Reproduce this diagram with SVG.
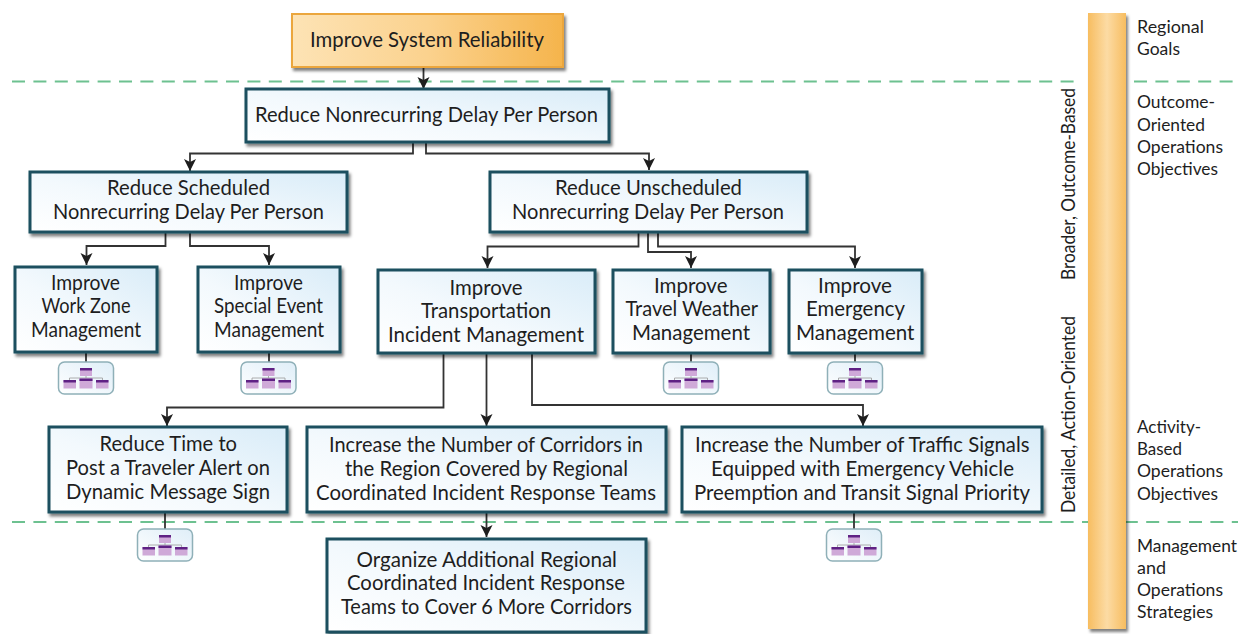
<svg xmlns="http://www.w3.org/2000/svg" width="1238" height="634" viewBox="0 0 1238 634">
<style>
text{font-family:Lato,"Open Sans","Liberation Sans",sans-serif;fill:#1e1e1e}
.m{font-size:20.500px}
.s{font-size:17.500px}
.r{font-size:19px}
.b{fill:url(#bg);stroke:#1c4f5e;stroke-width:3;filter:url(#sh)}
.c{fill:none;stroke:#333;stroke-width:1.8}
.a{marker-end:url(#ah)}
.d{fill:none;stroke:#6dc190;stroke-width:2;stroke-dasharray:13 8.4}
.i{fill:url(#ig);stroke:#8fb0b8;stroke-width:1.5}
.t{fill:#cfa9d8}
.p{fill:#5f2184}
</style>
<defs>
<linearGradient id="bg" x1="0" y1="1" x2="1" y2="0"><stop offset="0" stop-color="#ffffff"/><stop offset="0.45" stop-color="#f3f9fd"/><stop offset="1" stop-color="#d9ecf8"/></linearGradient>
<linearGradient id="ig" x1="0" y1="1" x2="1" y2="0"><stop offset="0" stop-color="#ffffff"/><stop offset="1" stop-color="#dfeef8"/></linearGradient>
<linearGradient id="og" x1="0" y1="0" x2="1" y2="0"><stop offset="0" stop-color="#fde3b5"/><stop offset="0.5" stop-color="#fbd28e"/><stop offset="1" stop-color="#f5b44c"/></linearGradient>
<linearGradient id="bar" x1="0" y1="0" x2="1" y2="0"><stop offset="0" stop-color="#f7bd60"/><stop offset="0.5" stop-color="#fcdba4"/><stop offset="1" stop-color="#f7bd60"/></linearGradient>
<filter id="sh" x="-10%" y="-10%" width="125%" height="125%"><feDropShadow dx="2" dy="3" stdDeviation="1.6" flood-color="#000" flood-opacity="0.5"/></filter>
<marker id="ah" markerUnits="userSpaceOnUse" markerWidth="14" markerHeight="14" refX="12" refY="6" orient="auto"><path d="M0,0 L12,6 L0,12 L3,6 z" fill="#1e1e1e"/></marker>
<g id="ic">
<rect class="i" x="0" y="0" width="55" height="32" rx="6"/>
<path d="M27.500,14V16M11,18V16H44V18" fill="none" stroke="#999" stroke-width="0.8"/>
<rect class="t" x="21.500" y="6" width="12" height="8"/><rect class="p" x="21.500" y="6" width="12" height="2.500"/>
<rect class="t" x="5" y="18" width="12.500" height="8.500"/><rect class="p" x="5" y="18" width="12.500" height="2.500"/>
<rect class="t" x="21" y="16.500" width="13" height="10"/><rect class="p" x="21" y="16.500" width="13" height="2.500"/>
<rect class="t" x="37.500" y="18" width="12.500" height="8.500"/><rect class="p" x="37.500" y="18" width="12.500" height="2.500"/>
</g>
</defs>

<g id="guides">
<path class="d" d="M12,81.500H1081"/>
<path class="d" d="M1134,81.500H1238"/>
<path class="d" d="M12,522H1238"/>
</g>

<g id="scale-bar">
<rect x="1088" y="13" width="38" height="616" fill="url(#bar)" filter="url(#sh)"/>
<text class="r" transform="translate(1074.500,280) rotate(-90)" textLength="192" lengthAdjust="spacingAndGlyphs">Broader, Outcome-Based</text>
<text class="r" transform="translate(1074.500,513) rotate(-90)" textLength="197" lengthAdjust="spacingAndGlyphs">Detailed, Action-Oriented</text>
</g>

<g id="levels">
<text class="s" x="1137" y="33" textLength="67" lengthAdjust="spacingAndGlyphs">Regional</text>
<text class="s" x="1137" y="55" textLength="43" lengthAdjust="spacingAndGlyphs">Goals</text>
<text class="s" x="1137" y="108" textLength="78" lengthAdjust="spacingAndGlyphs">Outcome-</text>
<text class="s" x="1137" y="131" textLength="68" lengthAdjust="spacingAndGlyphs">Oriented</text>
<text class="s" x="1137" y="153" textLength="86" lengthAdjust="spacingAndGlyphs">Operations</text>
<text class="s" x="1137" y="175" textLength="81" lengthAdjust="spacingAndGlyphs">Objectives</text>
<text class="s" x="1137" y="433" textLength="64" lengthAdjust="spacingAndGlyphs">Activity-</text>
<text class="s" x="1137" y="455" textLength="45" lengthAdjust="spacingAndGlyphs">Based</text>
<text class="s" x="1137" y="477" textLength="86" lengthAdjust="spacingAndGlyphs">Operations</text>
<text class="s" x="1137" y="500" textLength="81" lengthAdjust="spacingAndGlyphs">Objectives</text>
<text class="s" x="1137" y="552" textLength="100" lengthAdjust="spacingAndGlyphs">Management</text>
<text class="s" x="1137" y="574" textLength="29" lengthAdjust="spacingAndGlyphs">and</text>
<text class="s" x="1137" y="596" textLength="86" lengthAdjust="spacingAndGlyphs">Operations</text>
<text class="s" x="1137" y="618" textLength="76" lengthAdjust="spacingAndGlyphs">Strategies</text>
</g>

<g id="connectors">
<path class="c a" d="M423.500,67V89"/>
<path class="c a" d="M413,142V153.500H190V171"/>
<path class="c a" d="M426,142V153.500H649V170"/>
<path class="c a" d="M165.500,232V246H86.500V265"/>
<path class="c a" d="M190,232V246H269V265"/>
<path class="c a" d="M638.500,232V246.500H487.500V268"/>
<path class="c a" d="M648,232V252H691V268"/>
<path class="c a" d="M658,232V246.500H855V268"/>
<path class="c a" d="M443.500,353V407.500H167V426"/>
<path class="c a" d="M486.500,353V426"/>
<path class="c a" d="M532,353V405H863V426"/>
<path class="c a" d="M486.500,512V537"/>
<path class="c" d="M86,352V362M269,352V362M691,353V362M855,353V362M165,512V529M854,512V529"/>
</g>

<g id="n-goal">
<rect x="292" y="14" width="271" height="53" fill="url(#og)" stroke="#eba63e" stroke-width="2" filter="url(#sh)"/>
<text class="m" x="310" y="47" textLength="234" lengthAdjust="spacingAndGlyphs">Improve System Reliability</text>
</g>
<g id="n-delay">
<rect class="b" x="246" y="89" width="363" height="53"/>
<text class="m" x="255" y="122" textLength="343" lengthAdjust="spacingAndGlyphs">Reduce Nonrecurring Delay Per Person</text>
</g>
<g id="n-scheduled">
<rect class="b" x="30" y="172" width="317" height="60"/>
<text class="m" x="107" y="195" textLength="163" lengthAdjust="spacingAndGlyphs">Reduce Scheduled</text>
<text class="m" x="53" y="219" textLength="271" lengthAdjust="spacingAndGlyphs">Nonrecurring Delay Per Person</text>
</g>
<g id="n-unscheduled">
<rect class="b" x="490" y="172" width="317" height="60"/>
<text class="m" x="555" y="195" textLength="187" lengthAdjust="spacingAndGlyphs">Reduce Unscheduled</text>
<text class="m" x="512" y="219" textLength="272" lengthAdjust="spacingAndGlyphs">Nonrecurring Delay Per Person</text>
</g>
<g id="n-workzone">
<rect class="b" x="15" y="267" width="142" height="85"/>
<text class="m" x="51" y="290" textLength="69" lengthAdjust="spacingAndGlyphs">Improve</text>
<text class="m" x="41.500" y="313" textLength="89" lengthAdjust="spacingAndGlyphs">Work Zone</text>
<text class="m" x="31" y="337" textLength="110" lengthAdjust="spacingAndGlyphs">Management</text>
</g>
<g id="n-special">
<rect class="b" x="198" y="267" width="142" height="85"/>
<text class="m" x="234" y="290" textLength="69" lengthAdjust="spacingAndGlyphs">Improve</text>
<text class="m" x="214" y="313" textLength="109" lengthAdjust="spacingAndGlyphs">Special Event</text>
<text class="m" x="214" y="337" textLength="110" lengthAdjust="spacingAndGlyphs">Management</text>
</g>
<g id="n-incident">
<rect class="b" x="378" y="270" width="217" height="83"/>
<text class="m" x="449.500" y="295" textLength="73" lengthAdjust="spacingAndGlyphs">Improve</text>
<text class="m" x="421" y="318" textLength="130" lengthAdjust="spacingAndGlyphs">Transportation</text>
<text class="m" x="388" y="342" textLength="196" lengthAdjust="spacingAndGlyphs">Incident Management</text>
</g>
<g id="n-weather">
<rect class="b" x="613" y="270" width="157" height="83"/>
<text class="m" x="654" y="293" textLength="73.500" lengthAdjust="spacingAndGlyphs">Improve</text>
<text class="m" x="625.500" y="316" textLength="132.500" lengthAdjust="spacingAndGlyphs">Travel Weather</text>
<text class="m" x="632" y="340" textLength="118" lengthAdjust="spacingAndGlyphs">Management</text>
</g>
<g id="n-emergency">
<rect class="b" x="789" y="270" width="133" height="83"/>
<text class="m" x="818" y="293" textLength="74" lengthAdjust="spacingAndGlyphs">Improve</text>
<text class="m" x="806" y="316" textLength="99" lengthAdjust="spacingAndGlyphs">Emergency</text>
<text class="m" x="796" y="340" textLength="118.500" lengthAdjust="spacingAndGlyphs">Management</text>
</g>
<g id="n-alert">
<rect class="b" x="49" y="427" width="238" height="85"/>
<text class="m" x="99.500" y="451" textLength="137.500" lengthAdjust="spacingAndGlyphs">Reduce Time to</text>
<text class="m" x="66" y="475" textLength="204" lengthAdjust="spacingAndGlyphs">Post a Traveler Alert on</text>
<text class="m" x="66" y="499" textLength="204" lengthAdjust="spacingAndGlyphs">Dynamic Message Sign</text>
</g>
<g id="n-corridors">
<rect class="b" x="307" y="427" width="359" height="85"/>
<text class="m" x="329" y="452" textLength="314" lengthAdjust="spacingAndGlyphs">Increase the Number of Corridors in</text>
<text class="m" x="345" y="476" textLength="283" lengthAdjust="spacingAndGlyphs">the Region Covered by Regional</text>
<text class="m" x="316" y="500" textLength="340" lengthAdjust="spacingAndGlyphs">Coordinated Incident Response Teams</text>
</g>
<g id="n-signals">
<rect class="b" x="682" y="427" width="360" height="85"/>
<text class="m" x="695" y="452" textLength="334.500" lengthAdjust="spacingAndGlyphs">Increase the Number of Traffic Signals</text>
<text class="m" x="711" y="476" textLength="303" lengthAdjust="spacingAndGlyphs">Equipped with Emergency Vehicle</text>
<text class="m" x="694" y="500" textLength="336" lengthAdjust="spacingAndGlyphs">Preemption and Transit Signal Priority</text>
</g>
<g id="n-organize">
<rect class="b" x="327" y="539" width="319" height="93"/>
<text class="m" x="356.500" y="567" textLength="260.500" lengthAdjust="spacingAndGlyphs">Organize Additional Regional</text>
<text class="m" x="347" y="590" textLength="278" lengthAdjust="spacingAndGlyphs">Coordinated Incident Response</text>
<text class="m" x="341" y="614" textLength="291" lengthAdjust="spacingAndGlyphs">Teams to Cover 6 More Corridors</text>
</g>

<g id="icon-workzone"><use href="#ic" x="58.500" y="362"/></g>
<g id="icon-special"><use href="#ic" x="241" y="362"/></g>
<g id="icon-weather"><use href="#ic" x="663.500" y="362"/></g>
<g id="icon-emergency"><use href="#ic" x="827.500" y="362"/></g>
<g id="icon-alert"><use href="#ic" x="137.500" y="529"/></g>
<g id="icon-signals"><use href="#ic" x="826.500" y="529"/></g>
</svg>
